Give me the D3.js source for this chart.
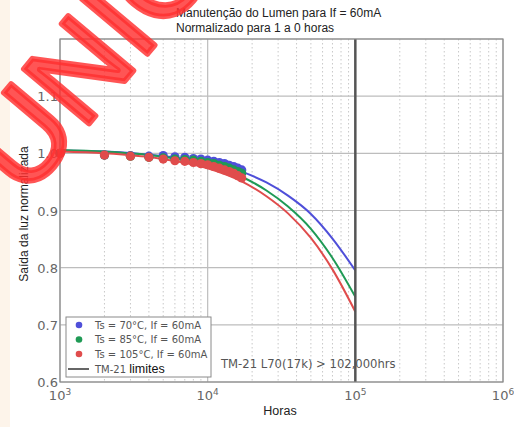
<!DOCTYPE html>
<html><head><meta charset="utf-8">
<script src="https://cdn.jsdelivr.net/npm/d3@7"></script>
<style>body{margin:0;background:#fff}svg{display:block}</style>
</head><body>
<script>
// ---- data ----
const pointHours = [1000,2000,3000,4000,5000,6000,7000,8000,9000,10000,11000,12000,13000,14000,15000,16000,17000];
const blueVals  = [1.000,0.997,0.996,0.995,0.996,0.994,0.993,0.991,0.990,0.988,0.986,0.984,0.982,0.979,0.977,0.974,0.971];
const greenVals = [1.000,0.997,0.995,0.993,0.992,0.990,0.989,0.988,0.986,0.984,0.982,0.979,0.977,0.974,0.971,0.968,0.965];
const redVals   = [1.000,0.997,0.995,0.993,0.990,0.987,0.986,0.984,0.982,0.980,0.977,0.974,0.971,0.968,0.965,0.961,0.957];
const fitHours  = [1000,2000,5000,10000,17000,25000,35000,50000,70000,100000];
const blueFit   = [1.005,1.003,0.995,0.984,0.968,0.949,0.926,0.894,0.851,0.795];
const greenFit  = [1.006,1.003,0.994,0.979,0.959,0.935,0.907,0.868,0.817,0.749];
const redFit    = [1.003,1.000,0.990,0.974,0.951,0.925,0.895,0.852,0.797,0.723];
const seriesNames = ["Ts = 70°C, If = 60mA","Ts = 85°C, If = 60mA","Ts = 105°C, If = 60mA"];
const seriesColors = ["#4f4fd9","#1f9a55","#e04c4c"];
const yTicks = [0.6,0.7,0.8,0.9,1.0,1.1];
const xTicks = [1e3,1e4,1e5,1e6];
const xTickExp = ["3","4","5","6"];
const limitHours = 1e5;
const titleLines = ["Manutenção do Lumen para If = 60mA","Normalizado para 1 a 0 horas"];
const annotation = "TM-21 L70(17k) > 102,000hrs";

const W=514,H=427;
const svg=d3.select("body").append("svg").attr("width",W).attr("height",H);
svg.append("rect").attr("width",W).attr("height",H).attr("fill","#fff");
svg.append("rect").attr("x",0).attr("y",0).attr("width",10).attr("height",H).attr("fill","#fdf4ea");

const x=d3.scaleLog().domain([1e3,1e6]).range([60,503]);
const y=d3.scaleLinear().domain([0.6,1.2]).range([382,39]);
const g=svg.append("g");

// minor grid
const minor=[];
for(let e=3;e<6;e++) for(let k=2;k<10;k++) minor.push(k*Math.pow(10,e));
g.selectAll(".mg").data(minor).join("line")
 .attr("x1",d=>x(d)).attr("x2",d=>x(d)).attr("y1",y(1.2)).attr("y2",y(0.6))
 .attr("stroke","#c8c8c8").attr("stroke-width",1).attr("stroke-dasharray","1.5,2.5");
// major grid
g.selectAll(".vg").data(xTicks).join("line")
 .attr("x1",d=>x(d)).attr("x2",d=>x(d)).attr("y1",y(1.2)).attr("y2",y(0.6))
 .attr("stroke","#bdbdbd").attr("stroke-width",1.2);
g.selectAll(".hg").data(yTicks.concat([1.2])).join("line")
 .attr("x1",x(1e3)).attr("x2",x(1e6)).attr("y1",d=>y(d)).attr("y2",d=>y(d))
 .attr("stroke","#bdbdbd").attr("stroke-width",1.2);

// fit curves
const line=d3.line().x(d=>x(d[0])).y(d=>y(d[1])).curve(d3.curveMonotoneX);
[blueFit,greenFit,redFit].forEach((vals,i)=>{
  g.append("path").attr("d",line(fitHours.map((h,j)=>[h,vals[j]])))
   .attr("fill","none").attr("stroke",seriesColors[i]).attr("stroke-width",2);
});
// points
[blueVals,greenVals,redVals].forEach((vals,i)=>{
  g.selectAll(".p"+i).data(pointHours.map((h,j)=>[h,vals[j]])).join("circle")
   .attr("cx",d=>x(d[0])).attr("cy",d=>y(d[1])).attr("r",4.6)
   .attr("fill",seriesColors[i]);
});
// limit line
g.append("line").attr("x1",x(limitHours)).attr("x2",x(limitHours)).attr("y1",y(1.2)).attr("y2",y(0.6))
 .attr("stroke","#555").attr("stroke-width",2.5);
// frame
g.append("rect").attr("x",60).attr("y",39).attr("width",443).attr("height",343)
 .attr("fill","none").attr("stroke","#8a8a8a").attr("stroke-width",1.2);

// y tick labels
g.selectAll(".yt").data(yTicks).join("text")
 .attr("x",58).attr("y",d=>y(d)+5).attr("text-anchor","end")
 .attr("font-family","DejaVu Sans").attr("font-size",13).attr("fill","#666")
 .text(d=>d.toFixed(1));
// x tick labels
xTicks.forEach((t,i)=>{
  const tx=g.append("text").attr("x",x(t)).attr("y",400).attr("text-anchor","middle")
   .attr("font-family","DejaVu Sans").attr("font-size",13).attr("fill","#666");
  tx.append("tspan").text("10");
  tx.append("tspan").attr("dy",-5).attr("font-size",9).text(xTickExp[i]);
});

// legend
const lg=g.append("g");
lg.append("rect").attr("x",66).attr("y",317).attr("width",145).attr("height",60)
 .attr("fill","#fff").attr("stroke","#8a8a8a").attr("stroke-width",1);
seriesNames.forEach((n,i)=>{
  const ly=325+i*14.5;
  lg.append("circle").attr("cx",79).attr("cy",ly).attr("r",3.3).attr("fill",seriesColors[i]);
  lg.append("text").attr("x",95).attr("y",ly+3.5).attr("font-family","DejaVu Sans")
   .attr("font-size",10).attr("fill","#555").text(n);
});
lg.append("line").attr("x1",68).attr("x2",89).attr("y1",369).attr("y2",369).attr("stroke","#555").attr("stroke-width",1.8);
const lt=lg.append("text").attr("x",95).attr("y",373);
lt.append("tspan").attr("font-family","DejaVu Sans").attr("font-size",10).attr("fill","#555").text("TM-21 ");
lt.append("tspan").attr("font-family","Liberation Sans, Arial").attr("font-size",12.5).attr("fill","#111").text("limites");

// annotation
g.append("text").attr("x",221).attr("y",368).attr("font-family","DejaVu Sans").attr("font-size",11.6)
 .attr("fill","#555").text(annotation);

// titles
titleLines.forEach((t,i)=>{
  svg.append("text").attr("x",176).attr("y",17+i*14.5).attr("font-family","Liberation Sans, Arial")
   .attr("font-size",12).attr("fill","#222").text(t);
});
svg.append("text").attr("transform","translate(28,214) rotate(-90)").attr("text-anchor","middle")
 .attr("font-family","Liberation Sans, Arial").attr("font-size",12).attr("fill","#222").text("Saída da luz normalizada");
svg.append("text").attr("x",280).attr("y",415).attr("text-anchor","middle")
 .attr("font-family","Liberation Sans, Arial").attr("font-size",12.5).attr("fill","#222").text("Horas");

// watermark
svg.append("text").attr("transform","translate(25,200) rotate(-50)")
 .attr("font-family","Liberation Sans, Arial").attr("font-size",124)
 .attr("fill","#ff3030").attr("stroke","#ff3030").attr("stroke-width",5.5)
 .attr("stroke-linejoin","round")
 .attr("fill-opacity",0.82).attr("stroke-opacity",0.82).text("UNIC");
</script>
</body></html>
